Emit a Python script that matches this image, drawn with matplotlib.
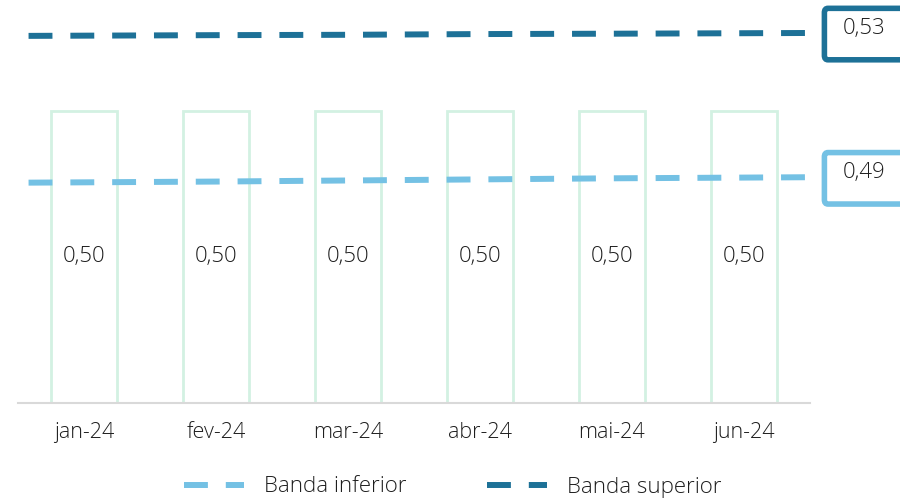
import numpy as np
import matplotlib.pyplot as plt
from matplotlib.patches import FancyBboxPatch
from matplotlib.transforms import blended_transform_factory

plt.rcParams['font.family'] = ['Open Sans', 'DejaVu Sans']
plt.rcParams['font.weight'] = 'light'

months = ['jan-24', 'fev-24', 'mar-24', 'abr-24', 'mai-24', 'jun-24']
bar_values = [0.50, 0.50, 0.50, 0.50, 0.50, 0.50]
band_inf = [0.4887, 0.4890, 0.4893, 0.4896, 0.4899, 0.4902]
band_sup = [0.5292, 0.5294, 0.5295, 0.5297, 0.5298, 0.5300]
last_inf_label = '0,49'
last_sup_label = '0,53'

c_dark = '#1d7197'
c_light = '#74c1e4'
c_bar = '#d3f1e2'
c_text = '#1e1e1e'

fig = plt.figure(figsize=(9, 5), dpi=100)
ax = fig.add_axes([0.02, 0.194, 0.88, 0.806])
ax2 = ax.twinx()

x = np.arange(len(months))
ax.bar(x, bar_values, width=0.5, facecolor='white', edgecolor=c_bar, linewidth=2)
for xi, v in zip(x, bar_values):
    ax.text(xi, v / 2, f'{v:.2f}'.replace('.', ','), ha='center', va='center',
            fontsize=16, color=c_text)

ax.set_xlim(-0.5, 5.5)
ax.set_ylim(0, 0.69)
ax.set_xticks(x)
ax.set_xticklabels(months, fontsize=15.5, color=c_text)
ax.tick_params(axis='x', length=0, pad=14)
ax.set_yticks([])
for s in ['top', 'left', 'right']:
    ax.spines[s].set_visible(False)
ax.spines['bottom'].set_color('#d9d9d9')
ax.spines['bottom'].set_linewidth(1.5)

# bands stretched over the plot width (start a bit inside the left edge)
x_line = np.concatenate([[-0.42], x[1:-1], [5.5]])
ax2.plot(x_line, band_inf, color=c_light, lw=4.3, dashes=(4, 3), label='Banda inferior')
ax2.plot(x_line, band_sup, color=c_dark, lw=4.3, dashes=(4, 3), label='Banda superior')
ax2.set_ylim(0.4279, 0.5391)
ax2.set_yticks([])
for s in ax2.spines.values():
    s.set_visible(False)

tr = blended_transform_factory(fig.transFigure, ax2.transData)
for val, lab, col in [(band_sup[-1], last_sup_label, c_dark), (band_inf[-1], last_inf_label, c_light)]:
    h = 0.0142
    box = FancyBboxPatch((0.916, val - h / 2 - 0.0003), 0.1, h,
                         boxstyle='round,pad=0,rounding_size=0.004',
                         transform=tr, facecolor='white', edgecolor=col,
                         linewidth=4, clip_on=False, mutation_aspect=0.3)
    ax2.add_patch(box)
    ax2.text(0.936, val + 0.0012, lab, transform=tr, ha='left', va='center',
             fontsize=16, color=c_text, clip_on=False)

leg = fig.legend(loc='center', bbox_to_anchor=(0.503, 0.026), ncol=2, frameon=False,
                 fontsize=16, handlelength=2.7, handletextpad=0.9, columnspacing=3.6)
for t in leg.get_texts():
    t.set_color(c_text)

fig.savefig('out.png', dpi=100)
